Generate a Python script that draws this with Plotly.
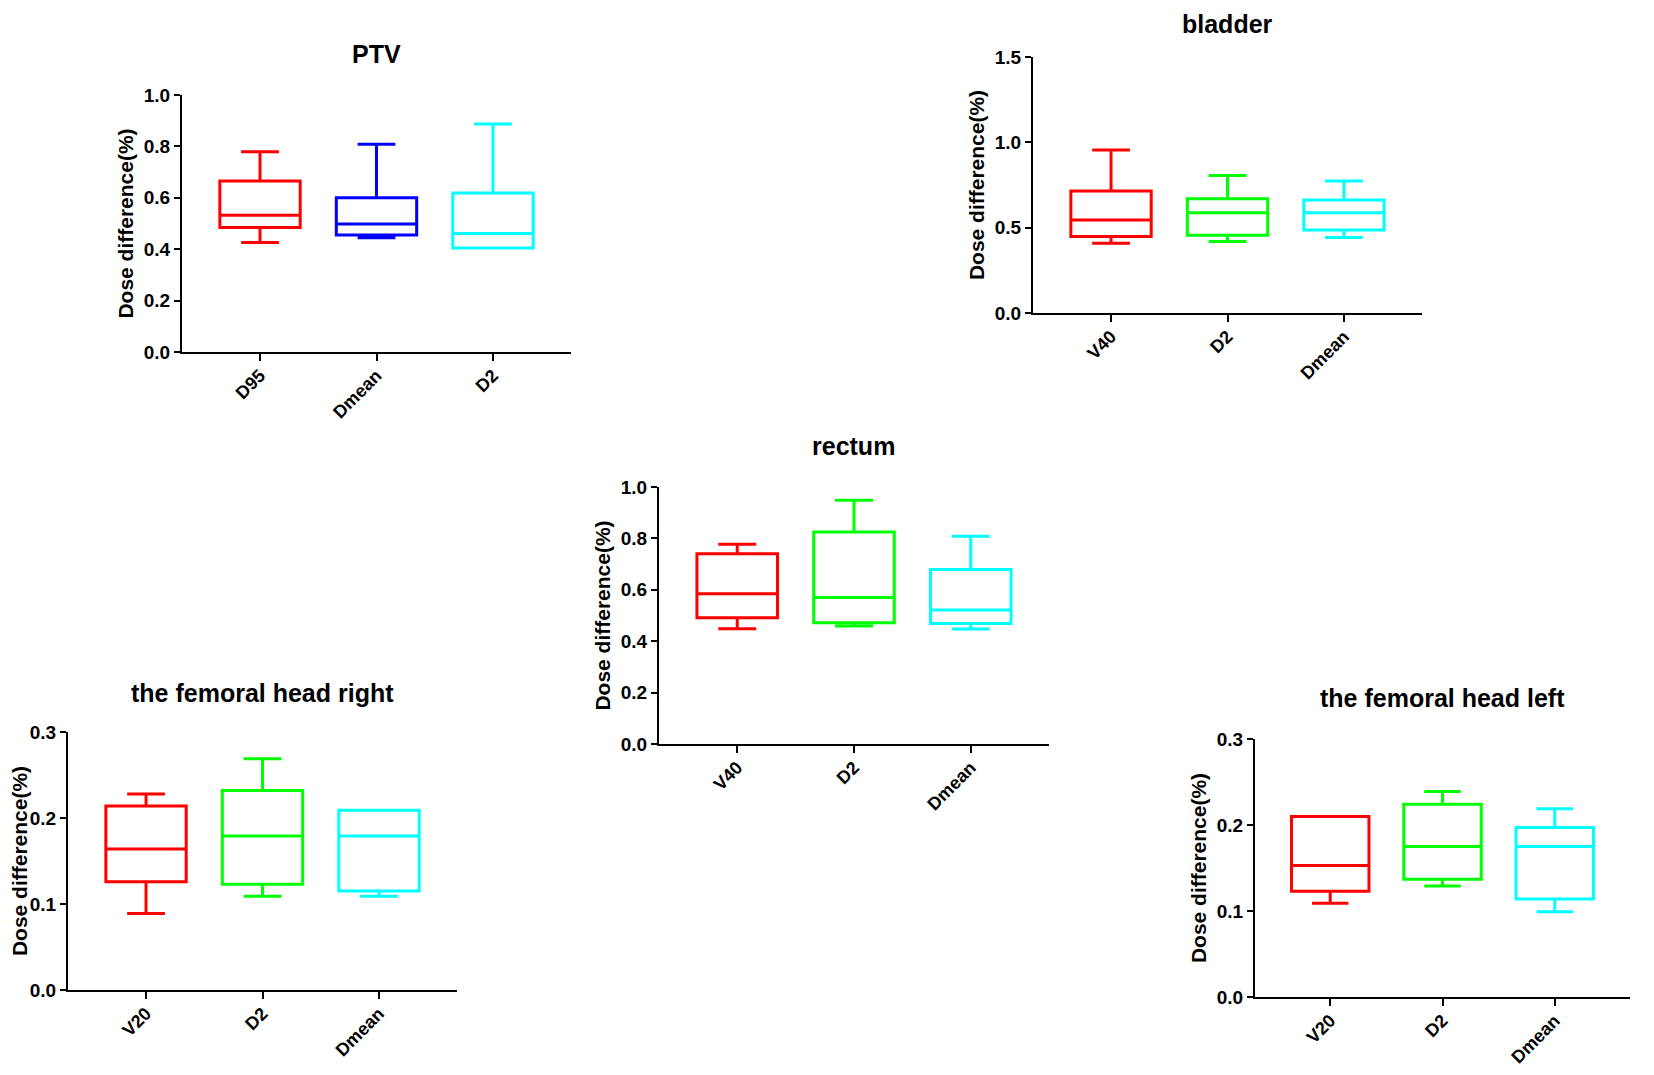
import plotly.graph_objects as go

# five panels, three boxes each: (lower whisker, q1, median, q3, upper whisker)
ptv_cats = ["D95", "Dmean", "D2"]
ptv_low = [0.426, 0.445, 0.405]
ptv_q1 = [0.484, 0.455, 0.405]
ptv_med = [0.532, 0.498, 0.461]
ptv_q3 = [0.665, 0.600, 0.619]
ptv_high = [0.779, 0.808, 0.887]

bladder_cats = ["V40", "D2", "Dmean"]
bladder_low = [0.409, 0.419, 0.442]
bladder_q1 = [0.448, 0.456, 0.487]
bladder_med = [0.545, 0.588, 0.588]
bladder_q3 = [0.715, 0.670, 0.662]
bladder_high = [0.955, 0.805, 0.773]

rectum_cats = ["V40", "D2", "Dmean"]
rectum_low = [0.448, 0.459, 0.447]
rectum_q1 = [0.491, 0.472, 0.469]
rectum_med = [0.585, 0.570, 0.521]
rectum_q3 = [0.740, 0.825, 0.679]
rectum_high = [0.777, 0.948, 0.808]

fem_right_cats = ["V20", "D2", "Dmean"]
fem_right_low = [0.089, 0.109, 0.109]
fem_right_q1 = [0.126, 0.123, 0.115]
fem_right_med = [0.164, 0.179, 0.179]
fem_right_q3 = [0.214, 0.232, 0.209]
fem_right_high = [0.228, 0.269, 0.209]

fem_left_cats = ["V20", "D2", "Dmean"]
fem_left_low = [0.109, 0.129, 0.099]
fem_left_q1 = [0.123, 0.137, 0.114]
fem_left_med = [0.153, 0.175, 0.175]
fem_left_q3 = [0.210, 0.224, 0.197]
fem_left_high = [0.210, 0.239, 0.219]

RED, BLUE, GREEN, CYAN = "#ff0000", "#0000ff", "#00ff00", "#00ffff"

FONT = "Arial, Liberation Sans, sans-serif"

# figure sits inside the page body (8px default margin)
W, H, PAD = 1638, 1059, 8


def px_x(a, b):
    return [(a - PAD) / W, (b - PAD) / W]


def px_y(top, bottom):
    return [1 - (bottom - PAD) / H, 1 - (top - PAD) / H]


panels = [
    dict(title="PTV", cats=ptv_cats, low=ptv_low, q1=ptv_q1, med=ptv_med, q3=ptv_q3,
         high=ptv_high, colors=[RED, BLUE, CYAN], ymax=1.0, dtick=0.2,
         x=px_x(182, 571), y=px_y(95, 352), shift=41),
    dict(title="bladder", cats=bladder_cats, low=bladder_low, q1=bladder_q1, med=bladder_med,
         q3=bladder_q3, high=bladder_high, colors=[RED, GREEN, CYAN], ymax=1.5, dtick=0.5,
         x=px_x(1033, 1422), y=px_y(57, 313), shift=33),
    dict(title="rectum", cats=rectum_cats, low=rectum_low, q1=rectum_q1, med=rectum_med,
         q3=rectum_q3, high=rectum_high, colors=[RED, GREEN, CYAN], ymax=1.0, dtick=0.2,
         x=px_x(659, 1049), y=px_y(487, 744), shift=41),
    dict(title="the femoral head right", cats=fem_right_cats, low=fem_right_low,
         q1=fem_right_q1, med=fem_right_med, q3=fem_right_q3, high=fem_right_high,
         colors=[RED, GREEN, CYAN], ymax=0.3, dtick=0.1,
         x=px_x(68, 457), y=px_y(732, 990), shift=39),
    dict(title="the femoral head left", cats=fem_left_cats, low=fem_left_low,
         q1=fem_left_q1, med=fem_left_med, q3=fem_left_q3, high=fem_left_high,
         colors=[RED, GREEN, CYAN], ymax=0.3, dtick=0.1,
         x=px_x(1255, 1630), y=px_y(739, 997), shift=41),
]

fig = go.Figure()
layout = {}

for i, p in enumerate(panels):
    n = "" if i == 0 else str(i + 1)
    for j, cat in enumerate(p["cats"]):
        fig.add_trace(
            go.Box(x=[cat],
                   q1=[p["q1"][j]],
                   median=[p["med"][j]],
                   q3=[p["q3"][j]],
                   lowerfence=[p["low"][j]],
                   upperfence=[p["high"][j]],
                   width=0.69,
                   whiskerwidth=0.47,
                   line=dict(color=p["colors"][j], width=3),
                   fillcolor="rgba(255,255,255,0)",
                   showlegend=False,
                   xaxis="x" + n,
                   yaxis="y" + n))

    layout["xaxis" + n] = dict(
        domain=p["x"], anchor="y" + n, type="category",
        categoryorder="array", categoryarray=p["cats"],
        range=[-0.67, 2.67], showline=True, linecolor="black", linewidth=2,
        ticks="outside", ticklen=7, tickwidth=2, tickcolor="black",
        tickangle=-45, ticklabelstandoff=-3, showgrid=False, zeroline=False,
        automargin=False,
        tickfont=dict(family=FONT, size=18, color="black", weight="bold"))
    layout["yaxis" + n] = dict(
        domain=p["y"], anchor="x" + n, range=[0, p["ymax"]],
        dtick=p["dtick"], tickformat=".1f", showline=True, linecolor="black",
        linewidth=2, ticks="outside", ticklen=6, tickwidth=2, tickcolor="black",
        showgrid=False, zeroline=False, automargin=False,
        title=dict(text="Dose difference(%)", standoff=4,
                   font=dict(family=FONT, size=21, color="black", weight="bold")),
        tickfont=dict(family=FONT, size=19, color="black", weight="bold"))

    fig.add_annotation(
        text=p["title"], xref="paper", yref="paper",
        x=(p["x"][0] + p["x"][1]) / 2, y=p["y"][1], yshift=p["shift"],
        xanchor="center", yanchor="middle", showarrow=False,
        font=dict(family=FONT, size=25, color="black", weight="bold"))

fig.update_layout(
    width=W, height=H,
    margin=dict(l=0, r=0, t=0, b=0),
    paper_bgcolor="white", plot_bgcolor="white",
    boxmode="overlay",
    **layout)

fig.write_html("out.html")
